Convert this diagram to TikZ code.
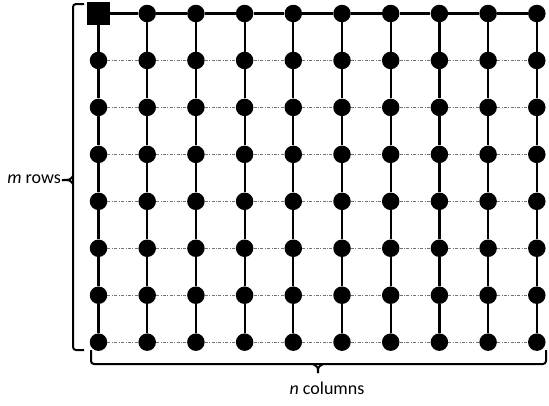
\documentclass[tikz,border=0pt]{standalone}
\usepackage{fontspec}
\setmainfont{Carlito}
\begin{document}
\begin{tikzpicture}[x=1pt,y=-1pt,
  dot/.style={circle,fill=black,inner sep=0pt,minimum size=17.5pt},
  sq/.style={rectangle,fill=black,inner sep=0pt,minimum size=23pt},
  solidline/.style={line width=2.2pt,black},
  dotline/.style={line width=0.6pt,black!55,dash pattern=on 3pt off 1.5pt on 0.8pt off 1.5pt},
  bracestyle/.style={line width=2pt,black,rounded corners=3pt},
  lbl/.style={font=\fontsize{18}{20}\selectfont,inner sep=0pt}]
\useasboundingbox (0,0) rectangle (549,405);
% nodes
\foreach \i in {1,...,10}{
  \foreach \j in {1,...,8}{
    \pgfmathsetmacro{\xx}{98.5+48.7*(\i-1)}
    \pgfmathsetmacro{\yy}{13.5+46.95*(\j-1)}
    \ifnum\i=1 \ifnum\j=1
      \node[sq] (n-\i-\j) at (\xx,\yy) {};
    \else
      \node[dot] (n-\i-\j) at (\xx,\yy) {};
    \fi\else
      \node[dot] (n-\i-\j) at (\xx,\yy) {};
    \fi
  }
}
% top row solid
\foreach \i [evaluate=\i as \k using int(\i+1)] in {1,...,9}{
  \draw[solidline] (n-\i-1) -- (n-\k-1);
}
% verticals
\foreach \i in {1,...,10}{
  \foreach \j [evaluate=\j as \k using int(\j+1)] in {1,...,7}{
    \draw[solidline] (n-\i-\j) -- (n-\i-\k);
  }
}
% dotted rows
\foreach \j in {2,...,8}{
  \foreach \i [evaluate=\i as \k using int(\i+1)] in {1,...,9}{
    \draw[dotline] (n-\i-\j) -- (n-\k-\j);
  }
}
% left brace
\coordinate (lb1) at (84,4);
\coordinate (lb2) at (84,350);
\coordinate (ltip) at (62,180);
\draw[bracestyle] (lb1) -- (73,4) -- (73,350) -- (lb2);
\draw[line width=2pt] (73,176) .. controls (70,180) .. (ltip);
\draw[line width=2pt] (73,184) .. controls (70,180) .. (ltip);
\node[lbl,anchor=east] (mrows) at (61,179) {\textit{m} rows};
% bottom brace
\coordinate (bb1) at (91,350);
\coordinate (bb2) at (546,350);
\coordinate (btip) at (318,373);
\draw[bracestyle] (bb1) -- (91,364) -- (546,364) -- (bb2);
\draw[line width=2pt] (313,364) .. controls (318,367) .. (btip);
\draw[line width=2pt] (323,364) .. controls (318,367) .. (btip);
\node[lbl] (ncols) at (327,388) {\textit{n} columns};
\end{tikzpicture}
\end{document}
